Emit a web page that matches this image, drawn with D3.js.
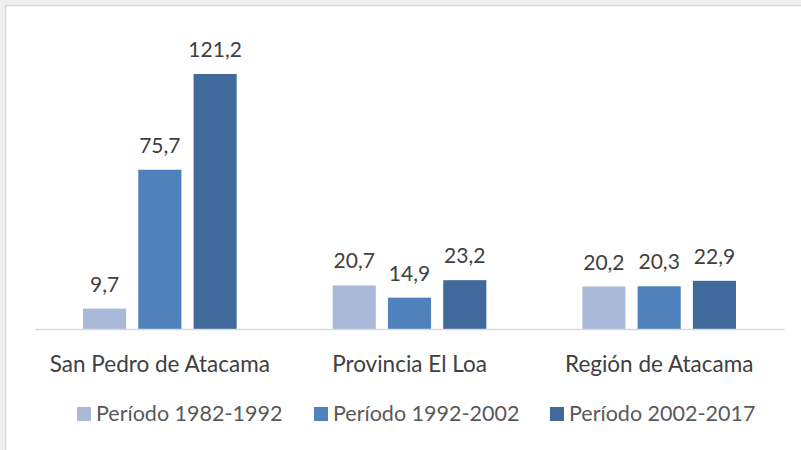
<!DOCTYPE html>
<html>
<head>
<meta charset="utf-8">
<script src="https://cdn.jsdelivr.net/npm/d3@7"></script>
<style>
  body { margin: 0; background: #f0f0f0; }
  svg { display: block; font-family: Lato, "Open Sans", sans-serif; }
</style>
</head>
<body>
<svg id="chart" width="801" height="450"></svg>
<script>
var categories = ["San Pedro de Atacama", "Provincia El Loa", "Región de Atacama"];
var seriesNames = ["Período 1982-1992", "Período 1992-2002", "Período 2002-2017"];
var values1 = [9.7, 20.7, 20.2];
var values2 = [75.7, 14.9, 20.3];
var values3 = [121.2, 23.2, 22.9];
var colors = ["#aab9d8", "#4f81bd", "#3f6a9b"];

var allSeries = [values1, values2, values3];
var width = 801, height = 450;
var baseY = 329;

var svg = d3.select("#chart");

// frame like the source screenshot
svg.append("rect")
    .attr("x", 5.5).attr("y", 5.5)
    .attr("width", width).attr("height", height)
    .attr("fill", "#fff")
    .attr("stroke", "#d9d9d9")
    .attr("stroke-width", 1.5);

var x0 = d3.scaleBand().domain(categories).range([35, 784]);
var x1 = d3.scaleBand().domain(d3.range(3)).range([48, x0.bandwidth() - 48]).paddingInner(0.22);
var y = d3.scaleLinear().domain([0, 121.2]).range([baseY, 74]);

var fmt = function(v) { return d3.format(".1f")(v).replace(".", ","); };

var groups = svg.selectAll("g.grp")
    .data(categories)
    .enter().append("g")
    .attr("class", "grp")
    .attr("transform", function(d) { return "translate(" + x0(d) + ",0)"; });

groups.selectAll("rect")
    .data(function(d, i) { return allSeries.map(function(s, k) { return {k: k, v: s[i]}; }); })
    .enter().append("rect")
    .attr("x", function(d) { return x1(d.k); })
    .attr("width", x1.bandwidth())
    .attr("y", function(d) { return y(d.v); })
    .attr("height", function(d) { return baseY - y(d.v); })
    .attr("fill", function(d) { return colors[d.k]; });

groups.selectAll("text.val")
    .data(function(d, i) { return allSeries.map(function(s, k) { return {k: k, v: s[i]}; }); })
    .enter().append("text")
    .attr("class", "val")
    .attr("x", function(d) { return x1(d.k) + x1.bandwidth() / 2; })
    .attr("y", function(d) { return y(d.v) - 17; })
    .attr("text-anchor", "middle")
    .attr("font-size", 21)
    .attr("fill", "#404040")
    .text(function(d) { return fmt(d.v); });

// axis
var xAxis = d3.axisBottom(x0).tickSize(0).tickPadding(26);
var ax = svg.append("g")
    .attr("transform", "translate(0," + baseY + ")")
    .call(xAxis);
ax.select(".domain").attr("stroke", "#d9d9d9").attr("stroke-width", 1.5);
ax.selectAll("text")
    .attr("dy", null)
    .attr("y", 43)
    .attr("font-size", 22.5)
    .attr("fill", "#404040")
    .attr("font-family", "Lato, 'Open Sans', sans-serif");

// legend
var legendX = [77, 314, 550];
var leg = svg.selectAll("g.leg")
    .data(seriesNames)
    .enter().append("g")
    .attr("class", "leg")
    .attr("transform", function(d, i) { return "translate(" + legendX[i] + ",407)"; });
leg.append("rect")
    .attr("width", 14).attr("height", 14)
    .attr("fill", function(d, i) { return colors[i]; });
leg.append("text")
    .attr("x", 19).attr("y", 14)
    .attr("font-size", 21.5)
    .attr("fill", "#595959")
    .text(function(d) { return d; });
</script>
</body>
</html>
